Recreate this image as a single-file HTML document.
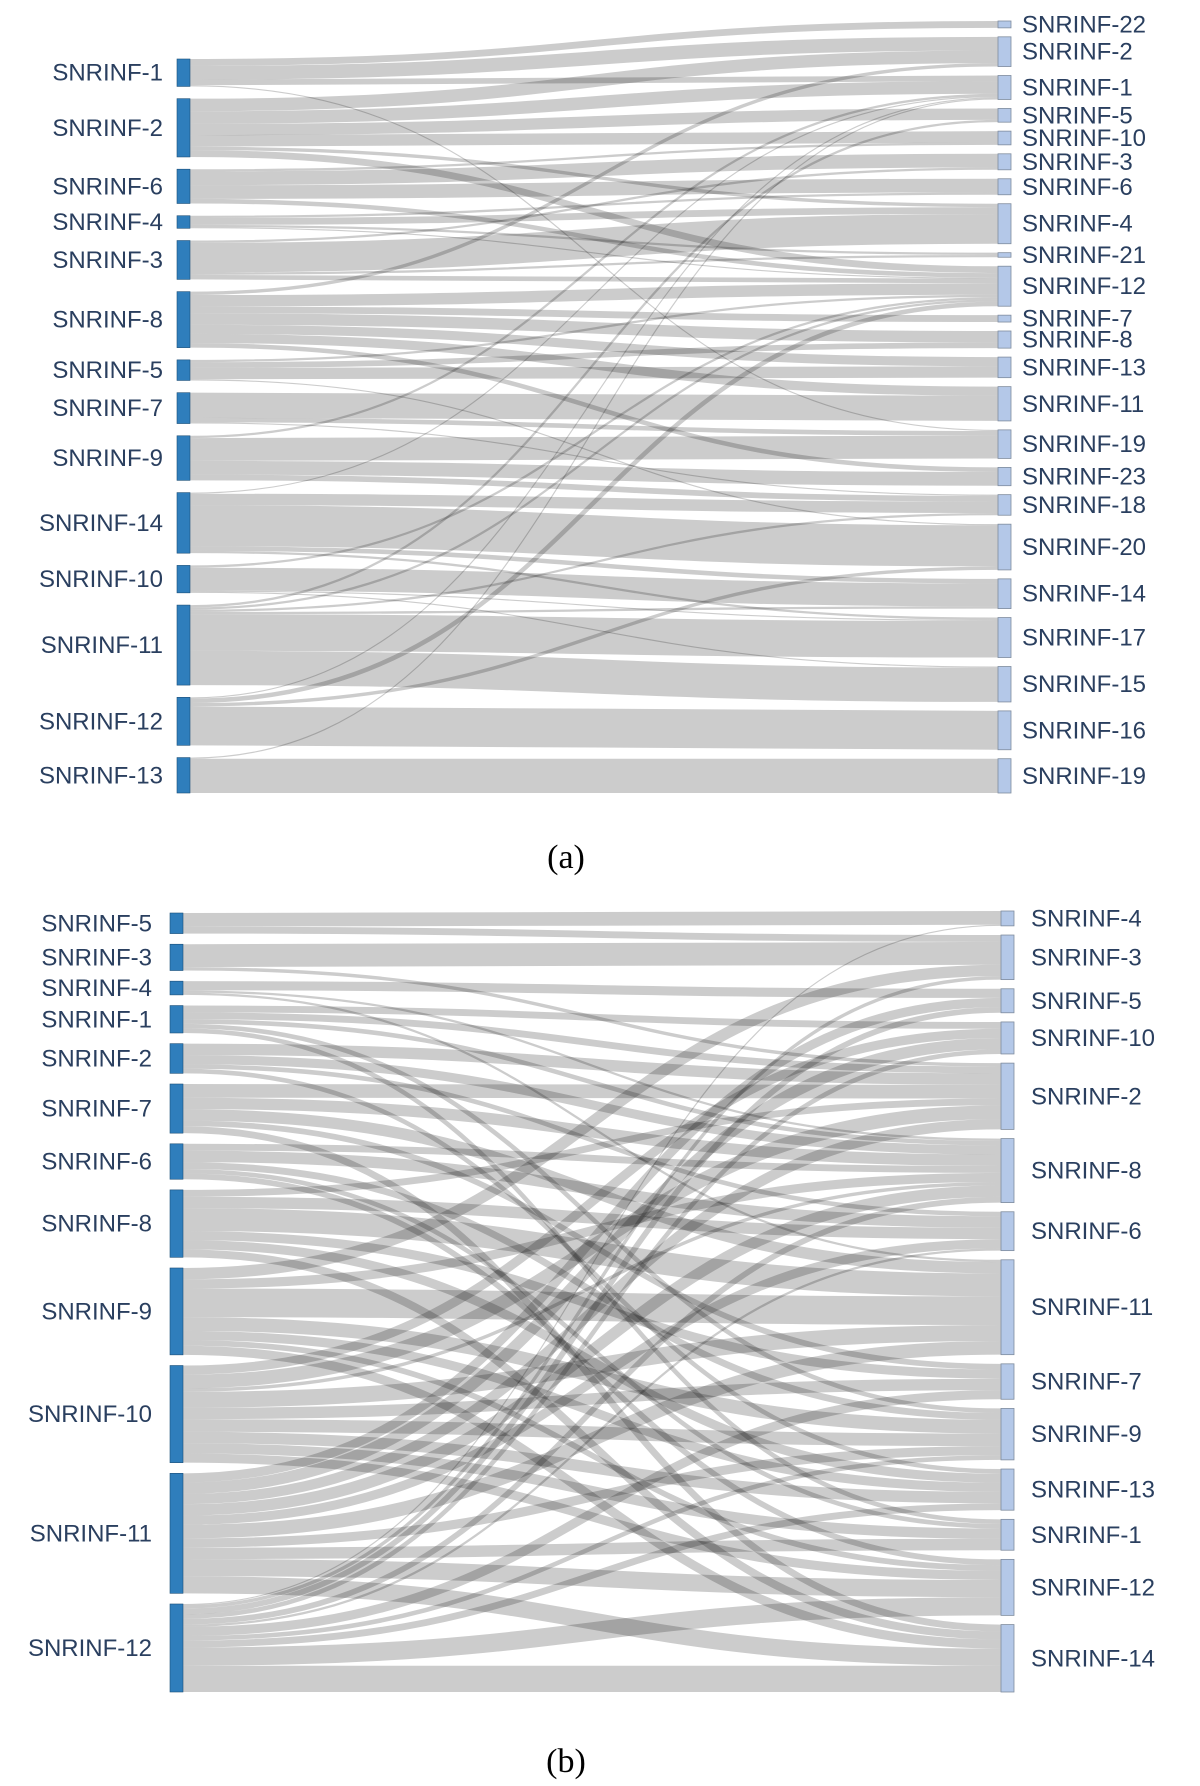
<!DOCTYPE html>
<html><head><meta charset="utf-8">
<style>
html,body{margin:0;padding:0;background:#fff;}
svg{display:block;}
.lbl{font-family:"Liberation Sans",sans-serif;font-size:24px;fill:#2a3f5f;}
.cap{font-family:"Liberation Serif",serif;font-size:34px;fill:#000;}
</style></head>
<body>
<svg id="chart" width="1200" height="1786" viewBox="0 0 1200 1786" xmlns="http://www.w3.org/2000/svg">
<text class="cap" x="566" y="868" text-anchor="middle">(a)</text>
<text class="cap" x="566" y="1772" text-anchor="middle">(b)</text>
</svg>
<script>
// ---- Panel (a) data ----
const leftA = ["SNRINF-1","SNRINF-2","SNRINF-6","SNRINF-4","SNRINF-3","SNRINF-8","SNRINF-5","SNRINF-7","SNRINF-9","SNRINF-14","SNRINF-10","SNRINF-11","SNRINF-12","SNRINF-13"];
const rightA = ["SNRINF-22","SNRINF-2","SNRINF-1","SNRINF-5","SNRINF-10","SNRINF-3","SNRINF-6","SNRINF-4","SNRINF-21","SNRINF-12","SNRINF-7","SNRINF-8","SNRINF-13","SNRINF-11","SNRINF-19","SNRINF-23","SNRINF-18","SNRINF-20","SNRINF-14","SNRINF-17","SNRINF-15","SNRINF-16","SNRINF-19 "];
// links: [sourceIndex, targetIndex, value]
const linksA = [
[0,0,6],[0,1,12],[0,2,5],[0,14,1],
[1,1,11],[1,2,11],[1,3,10],[1,4,10],[1,9,6],[1,7,3],
[2,5,12],[2,6,12],[2,9,4],[2,4,2],
[3,6,2],[3,7,6],[3,8,2],[3,9,1],
[4,7,26],[4,5,2],[4,8,2],[4,9,4],
[5,1,3],[5,9,10],[5,10,6],[5,11,10],[5,12,8],[5,15,4],[5,13,8],
[6,11,5],[6,12,10],[6,17,1],[6,9,2],
[7,13,22],[7,14,4],[7,16,1],
[8,14,20],[8,15,12],[8,16,5],[8,2,2],
[9,16,10],[9,17,36],[9,2,1],[9,18,4],[9,19,2],
[10,18,20],[10,20,1],[10,19,1],[10,9,2],
[11,19,32],[11,20,30],[11,9,2],[11,16,2],[11,3,2],[11,18,2],
[12,21,34],[12,9,4],[12,17,3],[12,2,1],
[13,22,30],[13,2,1]
];
// ---- Panel (b) data ----
const leftB = ["SNRINF-5","SNRINF-3","SNRINF-4","SNRINF-1","SNRINF-2","SNRINF-7","SNRINF-6","SNRINF-8","SNRINF-9","SNRINF-10","SNRINF-11","SNRINF-12"];
const rightB = ["SNRINF-4","SNRINF-3","SNRINF-5","SNRINF-10","SNRINF-2","SNRINF-8","SNRINF-6","SNRINF-11","SNRINF-7","SNRINF-9","SNRINF-13","SNRINF-1","SNRINF-12","SNRINF-14"];
const linksB = [
[0,0,12],[0,1,6],
[1,1,20],[1,4,3],
[2,2,8],[2,5,2],[2,7,2],
[3,3,6],[3,4,6],[3,11,4],[3,5,4],[3,9,4],
[4,4,10],[4,5,8],[4,6,4],[4,10,4],
[5,4,12],[5,5,10],[5,7,10],[5,8,5],[5,13,6],
[6,6,10],[6,5,6],[6,9,6],[6,12,5],[6,11,4],
[7,7,20],[7,6,10],[7,4,6],[7,8,8],[7,10,8],[7,13,7],
[8,7,25],[8,9,12],[8,5,8],[8,12,5],[8,10,8],[8,1,10],[8,13,8],
[9,7,14],[9,4,12],[9,9,11],[9,8,10],[9,10,10],[9,11,9],[9,12,8],[9,3,8],[9,5,3],
[10,4,9],[10,7,12],[10,5,10],[10,3,10],[10,2,8],[10,11,10],[10,12,15],[10,13,15],[10,9,8],[10,6,8],
[11,5,5],[11,3,4],[11,2,5],[11,6,2],[11,8,8],[11,10,6],[11,12,16],[11,13,23],[11,9,4],[11,1,3],[11,0,1]
];

const NS="http://www.w3.org/2000/svg";
const svg=document.getElementById('chart');

function drawSankey(cfg){
  const {left,right,links,k,lx0,lx1,rx0,rx1,lTop,lBot,rTop,rBot,lLabelX,rLabelX,id}=cfg;
  const g=document.createElementNS(NS,'g');
  
  
  svg.appendChild(g);
  const lv=left.map(()=>0), rv=right.map(()=>0);
  links.forEach(l=>{lv[l[0]]+=l[2];rv[l[1]]+=l[2];});
  function layout(vals,top,bot){
    const sum=vals.reduce((a,b)=>a+b,0);
    const gap=(bot-top-sum*k)/(vals.length-1);
    let y=top; return vals.map(v=>{const n={y0:y,y1:y+v*k};y=n.y1+gap;return n;});
  }
  const ln=layout(lv,lTop,lBot), rn=layout(rv,rTop,rBot);
  const srcOff=ln.map(n=>n.y0), tgtOff=rn.map(n=>n.y0);
  const bySrc=links.map((l,i)=>i).sort((a,b)=>links[a][0]-links[b][0]||links[a][1]-links[b][1]);
  const ys0=[],ys1=[];
  bySrc.forEach(i=>{const l=links[i];ys0[i]=srcOff[l[0]]+l[2]*k/2;srcOff[l[0]]+=l[2]*k;});
  const byTgt=links.map((l,i)=>i).sort((a,b)=>links[a][1]-links[b][1]||links[a][0]-links[b][0]);
  byTgt.forEach(i=>{const l=links[i];ys1[i]=tgtOff[l[1]]+l[2]*k/2;tgtOff[l[1]]+=l[2]*k;});
  const lg=document.createElementNS(NS,'g');
  
  
  g.appendChild(lg);
  const xm=(lx1+rx0)/2;
  links.forEach((l,i)=>{
    const p=document.createElementNS(NS,'path');
    p.setAttribute('d',`M${lx1},${ys0[i]}C${xm},${ys0[i]} ${xm},${ys1[i]} ${rx0},${ys1[i]}`);
    p.setAttribute('fill','none');
    p.setAttribute('stroke','rgba(0,0,0,0.2)');
    p.setAttribute('stroke-width',Math.max(0.6,l[2]*k));
    
    
    lg.appendChild(p);
  });
  ln.forEach((n,i)=>{
    const r=document.createElementNS(NS,'rect');
    r.setAttribute('x',lx0);r.setAttribute('y',n.y0);r.setAttribute('width',lx1-lx0);r.setAttribute('height',n.y1-n.y0);
    r.setAttribute('fill','#2f7ebc');r.setAttribute('stroke','#1c4f78');r.setAttribute('stroke-width','0.6');
    
    
    g.appendChild(r);
    const t=document.createElementNS(NS,'text');
    t.setAttribute('class','lbl');t.setAttribute('x',lLabelX);t.setAttribute('y',(n.y0+n.y1)/2+8);
    t.setAttribute('text-anchor','end');t.textContent=left[i];
    
    
    g.appendChild(t);
  });
  rn.forEach((n,i)=>{
    const r=document.createElementNS(NS,'rect');
    r.setAttribute('x',rx0);r.setAttribute('y',n.y0);r.setAttribute('width',rx1-rx0);r.setAttribute('height',n.y1-n.y0);
    r.setAttribute('fill','#b4c8e8');r.setAttribute('stroke','#7f8c9e');r.setAttribute('stroke-width','0.8');
    
    
    g.appendChild(r);
    const t=document.createElementNS(NS,'text');
    t.setAttribute('class','lbl');t.setAttribute('x',rLabelX);t.setAttribute('y',(n.y0+n.y1)/2+8);
    t.textContent=right[i].trim();
    
    
    g.appendChild(t);
  });
}
drawSankey({id:'a',left:leftA,right:rightA,links:linksA,k:1.143,lx0:177,lx1:190,rx0:998,rx1:1011,lTop:59,lBot:793,rTop:21,rBot:793,lLabelX:163,rLabelX:1022});
drawSankey({id:'b',left:leftB,right:rightB,links:linksB,k:1.143,lx0:170,lx1:183,rx0:1001,rx1:1014,lTop:913,lBot:1692,rTop:911,rBot:1692,lLabelX:152,rLabelX:1031});
</script>
</body></html>
